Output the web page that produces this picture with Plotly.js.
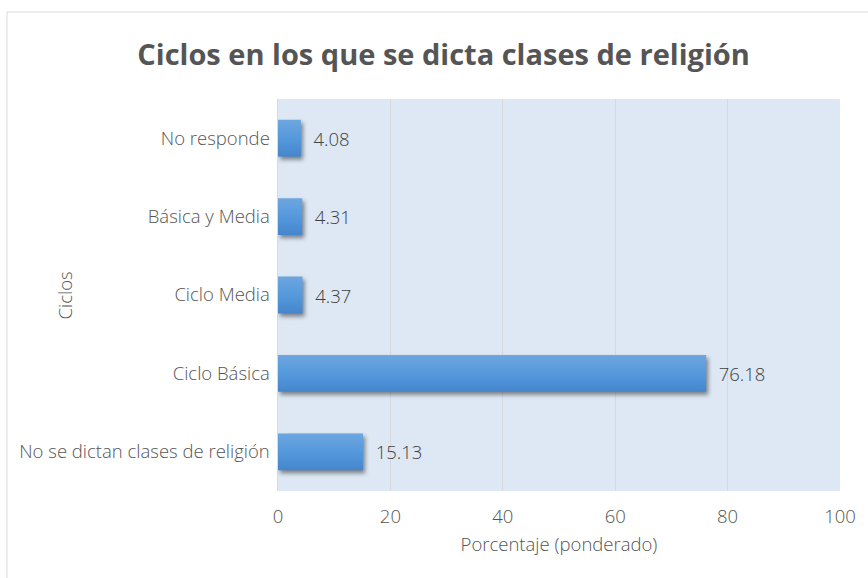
<!DOCTYPE html>
<html>
<head>
<meta charset="utf-8">
<script src="https://cdn.plot.ly/plotly-3.0.1.min.js"></script>
<style>
  html, body { margin: 0; padding: 0; background: #fff; }
  #chart { width: 868px; height: 578px; }
  .barlayer .point path { fill: url(#barGrad) !important; filter: drop-shadow(2px 3px 2px rgba(0,0,0,0.45)); }
</style>
</head>
<body>
<svg width="0" height="0" style="position:absolute">
  <defs>
    <linearGradient id="barGrad" x1="0" y1="0" x2="0" y2="1">
      <stop offset="0%" stop-color="#6ea6df"/>
      <stop offset="50%" stop-color="#5599dc"/>
      <stop offset="100%" stop-color="#4585cc"/>
    </linearGradient>
  </defs>
</svg>
<div id="chart"></div>
<script>
const categories = ["No se dictan clases de religión", "Ciclo Básica", "Ciclo Media", "Básica y Media", "No responde"];
const values = [15.13, 76.18, 4.37, 4.31, 4.08];
const xTicks = [0, 20, 40, 60, 80, 100];

const font = "'Open Sans', sans-serif";
const txt = "#555555";
const fs = 18.5;

const trace = {
  type: "bar",
  orientation: "h",
  y: categories,
  x: values,
  marker: { color: "#5599dc" },
  text: values.map(v => v.toFixed(2)),
  texttemplate: "  %{text}",
  textposition: "outside",
  cliponaxis: false,
  textfont: { family: font, size: fs, color: "#404040", weight: 300 },
  hoverinfo: "none"
};

const layout = {
  width: 868, height: 578,
  margin: { l: 278, r: 28, t: 99, b: 87 },
  paper_bgcolor: "#ffffff",
  plot_bgcolor: "#dde8f4",
  bargap: 0.53,
  showlegend: false,
  title: {
    text: "<b>Ciclos en los que se dicta clases de religión</b>",
    font: { family: font, size: 29, color: txt },
    x: 0.511, xanchor: "center", xref: "container",
    y: 0.905, yref: "container", yanchor: "middle"
  },
  xaxis: {
    range: [0, 100],
    tickvals: xTicks,
    ticktext: xTicks.map(String),
    showgrid: true, gridcolor: "#d6d9dd", gridwidth: 1.3,
    zeroline: false, showline: false,
    tickfont: { family: font, size: fs, color: txt, weight: 300 },
    ticks: "",
    ticklabelstandoff: 12,
    title: { text: "Porcentaje (ponderado)", font: { family: font, size: fs, color: txt, weight: 300 }, standoff: 11 },
    fixedrange: true
  },
  yaxis: {
    type: "category",
    showgrid: false, zeroline: false,
    showline: true, linecolor: "#d6d9dd", linewidth: 1.5,
    tickfont: { family: font, size: fs, color: txt, weight: 300 },
    ticks: "",
    ticklabelstandoff: 3,
    automargin: false,
    fixedrange: true
  },
  annotations: [{
    text: "Ciclos", xref: "paper", yref: "paper",
    x: -0.38, y: 0.5, xanchor: "center", yanchor: "middle",
    textangle: -90, showarrow: false,
    font: { family: font, size: fs, color: txt, weight: 300 }
  }],
  shapes: [{
    type: "rect", xref: "paper", yref: "paper",
    x0: -0.4822, x1: 1.2, y0: -0.5, y1: 1.2219,
    line: { color: "#d9d9d9", width: 1 }, fillcolor: "rgba(0,0,0,0)", layer: "below"
  }]
};

Plotly.newPlot("chart", [trace], layout, { displayModeBar: false, staticPlot: true });
</script>
</body>
</html>
